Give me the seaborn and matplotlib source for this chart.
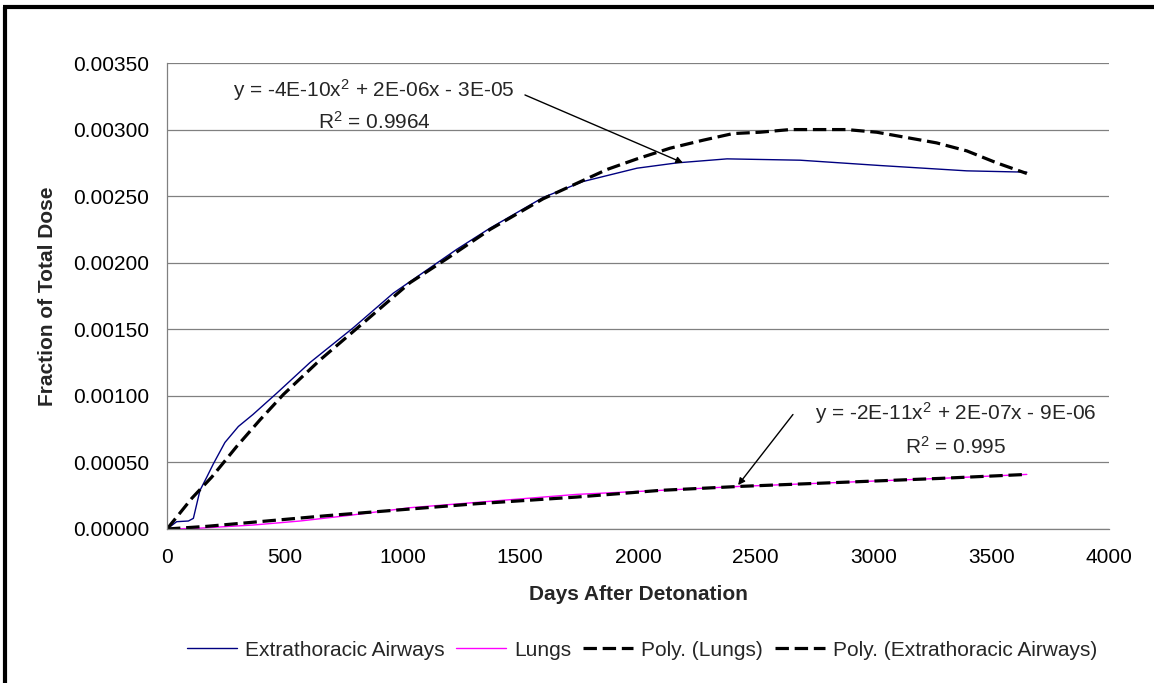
import numpy as np
import pandas as pd
import matplotlib
matplotlib.use("Agg")
import matplotlib.pyplot as plt
from matplotlib.lines import Line2D
import seaborn as sns

# Data (days after detonation, fraction of total dose)
days_et = [0, 41, 91, 112, 140, 169, 197, 246, 303, 365, 466, 607, 790, 960,
           1230, 1372, 1597, 1767, 1996, 2166, 2378, 2688, 3028, 3396, 3651]
et = [0, 0.000055, 0.00006, 0.00008, 0.00029, 0.00039, 0.00049, 0.00065, 0.00077,
      0.00086, 0.00102, 0.00125, 0.00151, 0.00177, 0.0021, 0.00226, 0.00249,
      0.00261, 0.00271, 0.00275, 0.00278, 0.00277, 0.00273, 0.00269, 0.00268]

days_lung = [0, 126, 367, 565, 763, 1032, 1386, 1740, 2093, 2433, 2858, 3282, 3651]
lungs = [0, 0.000005, 0.00003, 0.00006, 0.0001, 0.00016, 0.00021, 0.00026,
         0.00029, 0.00032, 0.00035, 0.00038, 0.00041]

days_poly_lung = [0, 169, 423, 678, 961, 1315, 1740, 2093, 2433, 2858, 3282, 3651]
poly_lungs = [0, 0.00002, 0.00006, 0.0001, 0.00014, 0.00019, 0.00024, 0.00029,
              0.00032, 0.00035, 0.00038, 0.00041]

days_poly_et = [0, 55, 105, 190, 296, 395, 494, 650, 848, 1032, 1188, 1372, 1597,
                1868, 1996, 2136, 2276, 2403, 2518, 2645, 2886, 3014, 3141, 3268,
                3396, 3523, 3651]
poly_et = [0, 0.00012, 0.00023, 0.00039, 0.00062, 0.00082, 0.00101, 0.00127,
           0.00157, 0.00185, 0.00203, 0.00225, 0.00248, 0.0027, 0.00278, 0.00286,
           0.00292, 0.00297, 0.00298, 0.003, 0.003, 0.00298, 0.00294, 0.0029,
           0.00284, 0.00275, 0.00267]

x_ticks = [0, 500, 1000, 1500, 2000, 2500, 3000, 3500, 4000]
y_ticks = [0, 0.0005, 0.001, 0.0015, 0.002, 0.0025, 0.003, 0.0035]

FS = 15

sns.set_theme(style="white")
plt.rcParams["font.family"] = ["Liberation Sans", "DejaVu Sans"]
plt.rcParams["mathtext.fontset"] = "custom"
plt.rcParams["mathtext.rm"] = "Liberation Sans"
plt.rcParams["mathtext.it"] = "Liberation Sans"

fig = plt.figure(figsize=(11.54, 6.83), dpi=100)
ax = fig.add_axes([167 / 1154, 1 - 529 / 683, 942 / 1154, 466 / 683])

df_et = pd.DataFrame({"x": days_et, "y": et})
df_lung = pd.DataFrame({"x": days_lung, "y": lungs})
df_pl = pd.DataFrame({"x": days_poly_lung, "y": poly_lungs})
df_pe = pd.DataFrame({"x": days_poly_et, "y": poly_et})

sns.lineplot(data=df_et, x="x", y="y", ax=ax, color="#000080", lw=1.0,
             label="Extrathoracic Airways", sort=False)
sns.lineplot(data=df_lung, x="x", y="y", ax=ax, color="#FF00FF", lw=1.0,
             label="Lungs", sort=False)
sns.lineplot(data=df_pl, x="x", y="y", ax=ax, color="black", lw=2.3,
             label="Poly. (Lungs)", sort=False)
sns.lineplot(data=df_pe, x="x", y="y", ax=ax, color="black", lw=2.3,
             label="Poly. (Extrathoracic Airways)", sort=False)
for ln in ax.lines[2:4]:
    ln.set_dashes((4.2, 1.8))

ax.set_xlim(0, 4000)
ax.set_ylim(0, 0.0035)
ax.set_xticks(x_ticks)
ax.set_yticks(y_ticks)
ax.set_yticklabels([f"{v:.5f}" for v in y_ticks])
ax.set_xticklabels([str(v) for v in x_ticks])
ax.tick_params(axis="both", which="both", direction="out", length=5, width=0.8,
               color="#808080", labelsize=FS, labelcolor="black")
ax.tick_params(axis="y", pad=8)
ax.tick_params(axis="x", pad=9)
ax.yaxis.grid(True, color="#808080", lw=0.9)
ax.xaxis.grid(False)
for s in ["top", "right"]:
    ax.spines[s].set_visible(False)
for s in ["left", "bottom"]:
    ax.spines[s].set_color("#808080")
    ax.spines[s].set_linewidth(0.9)

ax.set_xlabel("Days After Detonation", fontsize=FS, fontweight="bold")
ax.set_ylabel("Fraction of Total Dose", fontsize=FS, fontweight="bold")
ax.xaxis.set_label_coords(471 / 942, (529 - 585) / 466)
ax.yaxis.set_label_coords((57 - 167) / 942, 0.5)

# trendline equations
ax.text(879, 0.00330, "y = -4E-10x$^2$ + 2E-06x - 3E-05", ha="center", va="center",
        fontsize=FS)
ax.text(879, 0.00306, "R$^2$ = 0.9964", ha="center", va="center", fontsize=FS)
ax.annotate("", xy=(2191, 0.00275), xytext=(1520, 0.00326),
            arrowprops=dict(arrowstyle="-|>", color="black", lw=1.0,
                            mutation_scale=10, shrinkA=0, shrinkB=0))
ax.text(3350, 0.000870, "y = -2E-11x$^2$ + 2E-07x - 9E-06", ha="center", va="center",
        fontsize=FS)
ax.text(3350, 0.000615, "R$^2$ = 0.995", ha="center", va="center", fontsize=FS)
ax.annotate("", xy=(2425, 0.00033), xytext=(2658, 0.00086),
            arrowprops=dict(arrowstyle="-|>", color="black", lw=1.0,
                            mutation_scale=10, shrinkA=0, shrinkB=0))

handles, labels = ax.get_legend_handles_labels()
ax.get_legend().remove()
fig.legend(handles, labels, loc="center", bbox_to_anchor=(642 / 1154, 1 - 650 / 683),
           ncol=4, frameon=False, fontsize=FS, handlelength=2.4,
           columnspacing=0.55, handletextpad=0.4)

# outer chart border (left and top visible)
fig.add_artist(Line2D([5.3 / 1154, 5.3 / 1154], [0, 1 - 7 / 683], color="black",
                      lw=3.0, solid_capstyle="butt", transform=fig.transFigure))
fig.add_artist(Line2D([3.3 / 1154, 1], [1 - 7 / 683, 1 - 7 / 683], color="black",
                      lw=3.0, solid_capstyle="butt", transform=fig.transFigure))

fig.savefig("out.png", dpi=100)
